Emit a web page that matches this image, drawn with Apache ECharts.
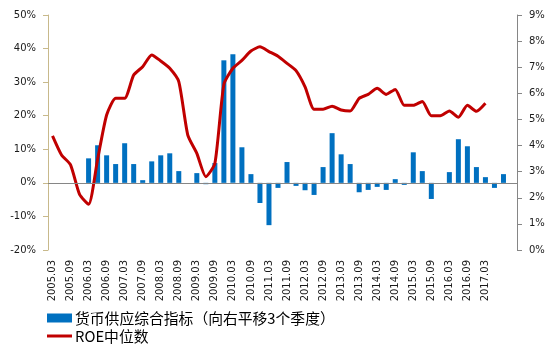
<!DOCTYPE html>
<html>
<head>
<meta charset="utf-8">
<script src="https://cdn.jsdelivr.net/npm/echarts@6/dist/echarts.min.js"></script>
<style>
  html, body { margin: 0; padding: 0; background: #fff; }
  #chart { width: 554px; height: 345px; }
</style>
</head>
<body>
<div id="chart"></div>
<script>
// Quarterly categories, 2005.03 – 2017.12
const quarters = [];
for (let y = 2005; y <= 2017; y++) {
  ['03', '06', '09', '12'].forEach(m => quarters.push(y + '.' + m));
}

// Money supply composite indicator (%), shifted right by 3 quarters
const moneySupply = [
  null, null, null, null, 7.3, 11.2, 8.2, 5.6, 11.8, 5.6,
  0.8, 6.4, 8.2, 8.8, 3.5, null, 2.9, -0.4, 5.9, 36.5,
  38.3, 10.6, 2.6, -6.0, -12.6, -1.5, 6.2, -0.9, -2.2, -3.6,
  4.7, 14.8, 8.5, 5.6, -2.8, -2.1, -1.2, -2.1, 1.1, -0.6,
  9.1, 3.5, -4.8, null, 3.2, 13.0, 10.9, 4.7, 1.7, -1.5,
  2.6, null
];

// Median ROE (%)
const roeMedian = [
  4.37, 3.64, 3.26, 2.13, 1.75, 3.47, 5.17, 5.81, 5.81, 6.70,
  7.02, 7.47, 7.24, 6.96, 6.45, 4.40, 3.70, 2.81, 3.31, 6.34,
  6.96, 7.26, 7.62, 7.78, 7.60, 7.42, 7.15, 6.87, 6.25, 5.39,
  5.39, 5.51, 5.36, 5.32, 5.81, 5.96, 6.19, 5.96, 6.15, 5.54,
  5.54, 5.69, 5.14, 5.14, 5.32, 5.08, 5.54, 5.31, 5.62
];

const leftTicks = { min: -20, max: 50, interval: 10 };
const rightTicks = { min: 0, max: 9, interval: 1 };

const seriesNames = ['货币供应综合指标（向右平移3个季度）', 'ROE中位数'];

const chart = echarts.init(document.getElementById('chart'));
const labelFont = { fontFamily: 'DejaVu Sans', fontSize: 10, color: '#1a1a1a' };
const legendText = {
  fontFamily: 'Noto Sans CJK SC', fontSize: 14.8, lineHeight: 16, color: '#000',
  padding: [0, 0, 0, -2]
};

chart.setOption({
  animation: false,
  grid: { left: 48, right: 37, top: 15, bottom: 95 },
  legend: [
    {
      left: 47, top: 310, padding: 0,
      itemWidth: 25, itemHeight: 9, itemGap: 0,
      textStyle: legendText,
      data: [{ name: seriesNames[0], icon: 'rect' }]
    },
    {
      left: 47, top: 328, padding: 0,
      itemWidth: 25, itemHeight: 3, itemGap: 0,
      textStyle: legendText,
      data: [{ name: seriesNames[1], icon: 'rect', itemStyle: { color: '#c00000' } }]
    }
  ],
  xAxis: {
    type: 'category',
    data: quarters,
    boundaryGap: true,
    axisLine: { show: false },
    axisTick: { show: false },
    axisLabel: Object.assign({
      rotate: 90,
      margin: 10,
      interval: (idx) => idx % 2 === 0 && idx <= 48
    }, labelFont)
  },
  yAxis: [
    {
      type: 'value',
      min: leftTicks.min, max: leftTicks.max, interval: leftTicks.interval,
      splitLine: { show: false },
      axisLine: { show: true, lineStyle: { color: '#c8b98b', width: 1 } },
      axisTick: { show: true, length: 5, lineStyle: { color: '#c8b98b' } },
      axisLabel: Object.assign({ formatter: '{value}%', margin: 12 }, labelFont)
    },
    {
      type: 'value',
      position: 'right',
      min: rightTicks.min, max: rightTicks.max, interval: rightTicks.interval,
      splitLine: { show: false },
      axisLine: { show: true, lineStyle: { color: '#868686', width: 1 } },
      axisTick: { show: true, length: 5, lineStyle: { color: '#868686' } },
      axisLabel: Object.assign({ formatter: '{value}%', margin: 12 }, labelFont)
    }
  ],
  series: [
    {
      name: seriesNames[0],
      type: 'bar',
      yAxisIndex: 0,
      data: moneySupply,
      barWidth: 5,
      itemStyle: { color: '#0070c0' },
      markLine: {
        silent: true,
        symbol: 'none',
        label: { show: false },
        lineStyle: { color: '#868686', width: 1, type: 'solid' },
        data: [{ yAxis: 0 }]
      }
    },
    {
      name: seriesNames[1],
      type: 'line',
      yAxisIndex: 1,
      data: roeMedian,
      symbol: 'none',
      smooth: 0.2,
      lineStyle: { color: '#c00000', width: 3 },
      itemStyle: { color: '#c00000' }
    }
  ]
});
</script>
</body>
</html>
